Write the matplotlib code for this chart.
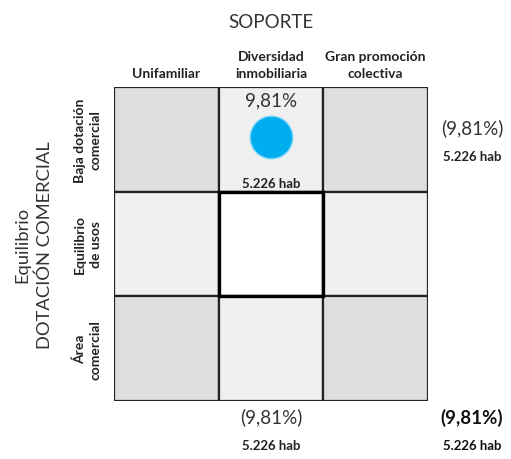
import matplotlib
matplotlib.use("Agg")
import matplotlib.pyplot as plt
from matplotlib.patches import Rectangle

# ---- data ----
x_title = "SOPORTE"
y_title = "Equilibrio\nDOTACIÓN COMERCIAL"
col_labels = ["Unifamiliar", "Diversidad\ninmobiliaria", "Gran promoción\ncolectiva"]
row_labels = ["Baja dotación\ncomercial", "Equilibrio\nde usos", "Área\ncomercial"]
point_rows = [0]
point_cols = [1]
point_pct = [9.81]
point_hab = [5226]
row_tot_pct = [9.81, None, None]
row_tot_hab = [5226, None, None]
col_tot_pct = [None, 9.81, None]
col_tot_hab = [None, 5226, None]
total_pct = 9.81
total_hab = 5226


def fpct(v):
    return f"{v:.2f}%".replace(".", ",")


def fhab(v):
    return f"{v:,}".replace(",", ".") + " hab"


plt.rcParams["font.family"] = ["Lato", "DejaVu Sans"]

W, H = 511, 460
fig = plt.figure(figsize=(W / 100, H / 100), dpi=100)
L, R, T, B = 114, 428, 88, 402
ax = fig.add_axes([L / W, 1 - B / H, (R - L) / W, (B - T) / H])
ax.set_xlim(0, 3)
ax.set_ylim(3, 0)
ax.axis("off")

shade = {2: "#dedede", 1: "#f0f0f0", 0: "#ffffff"}
for r in range(3):
    for c in range(3):
        level = (r != 1) + (c != 1)
        ax.add_patch(Rectangle((c, r), 1, 1, facecolor=shade[level],
                               edgecolor="#222222", linewidth=1.6, zorder=1))
ax.add_patch(Rectangle((1, 1), 1, 1, facecolor="none", edgecolor="#000000",
                       linewidth=2.4, zorder=2))

for r, c, p, h in zip(point_rows, point_cols, point_pct, point_hab):
    ax.scatter([c + 0.5], [r + 0.48], s=p * 97, color="#00aeef",
               edgecolor="#8fdcf8", linewidth=1.0, zorder=3, clip_on=False)
    ax.text(c + 0.5, r + 0.12, fpct(p), ha="center", va="center",
            fontsize=13.5, color="#333333")
    ax.text(c + 0.5, r + 0.92, fhab(h), ha="center", va="center",
            fontsize=9.5, color="#222222", fontweight="bold")

for r in range(3):
    if row_tot_pct[r] is not None:
        ax.text(3.42, r + 0.38, f"({fpct(row_tot_pct[r])})", ha="center",
                va="center", fontsize=13.5, color="#333333", clip_on=False)
        ax.text(3.42, r + 0.66, fhab(row_tot_hab[r]), ha="center",
                va="center", fontsize=9.5, color="#222222", fontweight="bold")
for c in range(3):
    if col_tot_pct[c] is not None:
        ax.text(c + 0.5, 3.15, f"({fpct(col_tot_pct[c])})", ha="center",
                va="center", fontsize=13.5, color="#333333", clip_on=False)
        ax.text(c + 0.5, 3.42, fhab(col_tot_hab[c]), ha="center",
                va="center", fontsize=9.5, color="#222222", fontweight="bold")
ax.text(3.42, 3.15, f"({fpct(total_pct)})", ha="center", va="center",
        fontsize=13.5, color="#111111", fontweight="bold")
ax.text(3.42, 3.42, fhab(total_hab), ha="center", va="center",
        fontsize=9.5, color="#111111", fontweight="bold")

ax.text(1.5, -0.63, x_title, ha="center", va="center", fontsize=13.5,
        color="#333333")
for c, lab in enumerate(col_labels):
    ax.text(c + 0.5, -0.08, lab, ha="center", va="bottom", fontsize=10,
            color="#222222", fontweight="bold", linespacing=1.45)

ax.text(-0.77, 1.5, y_title, ha="center", va="center", rotation=90,
        fontsize=13.2, color="#333333", linespacing=1.45)
for r, lab in enumerate(row_labels):
    ax.text(-0.25, r + 0.5, lab, ha="center", va="center", rotation=90,
            fontsize=10, color="#222222", fontweight="bold", linespacing=1.38)

fig.savefig("out.png", dpi=100)
